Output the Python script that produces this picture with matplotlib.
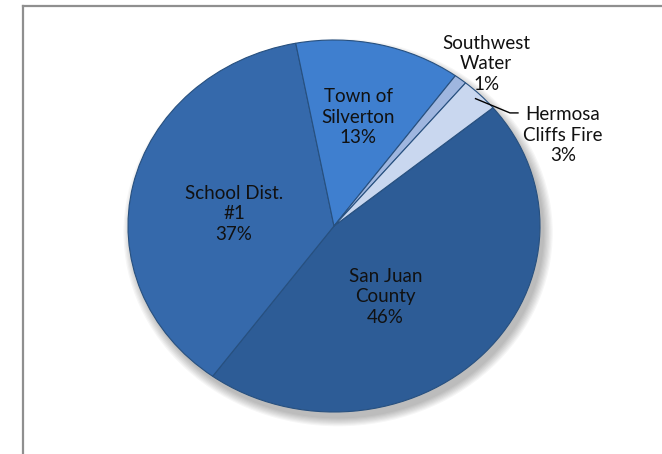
import numpy as np
import matplotlib
matplotlib.use('Agg')
import matplotlib.pyplot as plt
from matplotlib.patches import Ellipse
from matplotlib.lines import Line2D

# data (percent of total)
labels = ['San Juan\nCounty', 'School Dist.\n#1', 'Town of\nSilverton', 'Southwest\nWater', 'Hermosa\nCliffs Fire']
values = [46, 37, 13, 1, 3]
colors = ['#2d5c96', '#3569ab', '#3f7fcf', '#9fb6df', '#c9d7ef']

# label positions in axes data units (radius = 1)
label_pos = [(0.25, -0.38), (-0.485, 0.065), (0.117, 0.586), (0.738, 0.871), (1.112, 0.489)]

plt.rcParams['font.family'] = ['Lato', 'DejaVu Sans']

fig = plt.figure(figsize=(6.62, 4.54), dpi=100)
ax = fig.add_axes([0, 0, 1, 1])

# soft shadow under the pie
for i in range(8):
    ax.add_patch(Ellipse((0.02, -0.035), 2.0 + i * 0.012, 2.0 + i * 0.012,
                         facecolor='black', edgecolor='none', alpha=0.035, zorder=0))

wedges, _ = ax.pie(values, colors=colors, startangle=39.5, counterclock=False,
                   radius=1.0, center=(0, 0),
                   wedgeprops=dict(edgecolor='#27507f', linewidth=0.8))
for w in wedges:
    w.set_zorder(2)

ax.set_aspect('auto')
ax.set_xlim(-334 / 206, (662 - 334) / 206)
ax.set_ylim(-(454 - 226) / 186, 226 / 186)
ax.axis('off')

for i, (lab, v) in enumerate(zip(labels, values)):
    x, y = label_pos[i]
    ax.text(x, y, lab + '\n' + str(v) + '%', ha='center', va='center',
            fontsize=13.5, color='#111111', linespacing=1.25, zorder=5)

# leader line for Hermosa Cliffs Fire
w = wedges[4]
mid = np.deg2rad((w.theta1 + w.theta2) / 2)
x0, y0 = np.cos(mid) * 0.97, np.sin(mid) * 0.97
ax.plot([x0, 0.854, 0.893], [y0, 0.608, 0.608], color='black', lw=1.0, zorder=6)

# chart frame (top and left only visible)
fig.add_artist(Line2D([22.5 / 662, 22.5 / 662], [0, 1 - 6 / 454], color='#8f8f8f', lw=1.6))
fig.add_artist(Line2D([22.5 / 662, 1], [1 - 6 / 454, 1 - 6 / 454], color='#8f8f8f', lw=1.6))

plt.savefig('out.png', dpi=100)
